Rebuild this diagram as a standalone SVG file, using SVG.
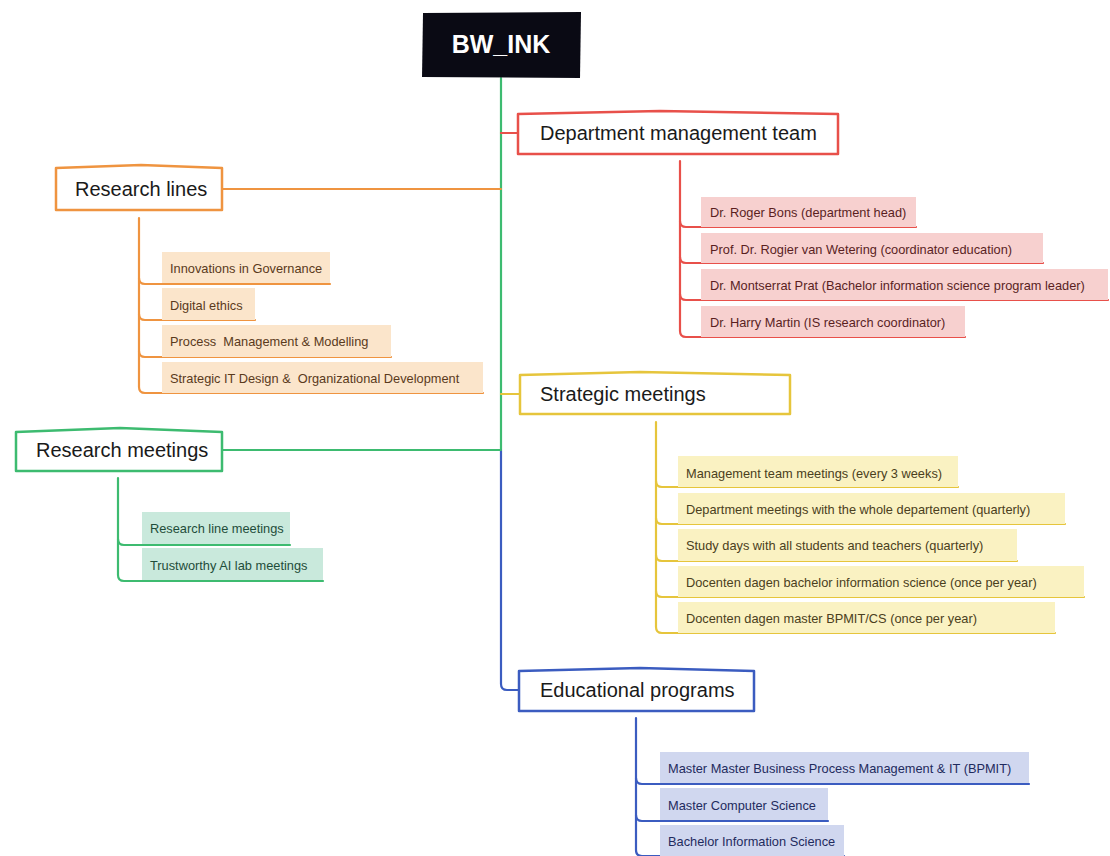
<svg xmlns="http://www.w3.org/2000/svg" width="1110" height="856" viewBox="0 0 1110 856">
<style>
.main{fill:#fff;stroke-width:2.5;stroke-linejoin:round}
.mt{font-family:"Liberation Sans",Arial,sans-serif;font-size:20px;fill:#1a1a1a}
.ct{font-family:"Liberation Sans",Arial,sans-serif;font-size:12.8px}
.ln{fill:none;stroke-width:2.2;stroke-linecap:round;stroke-linejoin:round}
.o{stroke:#ef9440}.r{stroke:#e8504a}.y{stroke:#e6c53c}.g{stroke:#3dbb70}.b{stroke:#3b5cc0}
.ob{fill:#fbe5cb}.rb{fill:#f7d0cf}.yb{fill:#faf2c2}.gb{fill:#c9e9dc}.bb{fill:#d0d7ef}
.ot{fill:#5a3a1c}.rt{fill:#5a1f1f}.yt{fill:#4a4020}.gt{fill:#1f4d3a}.bt{fill:#1f2b5e}
</style>
<rect width="1110" height="856" fill="#fff"/>
<g id="connectors">
  <path class="ln g" d="M501,78 V450"/>
  <path class="ln b" d="M501,450 V684 Q501,690 507,690 H519"/>
  <path class="ln r" d="M501,133 H518"/>
  <path class="ln y" d="M501,394 H520"/>
  <path class="ln o" d="M222,189 H501"/>
  <path class="ln g" d="M222,450 H501"/>
  <path class="ln o" d="M139,218 V278 Q139,284 145,284 H330"/>
  <path class="ln o" d="M139,278 V314 Q139,320 145,320 H255"/>
  <path class="ln o" d="M139,314 V351 Q139,357 145,357 H391"/>
  <path class="ln o" d="M139,351 V387 Q139,393 145,393 H483"/>
  <path class="ln r" d="M680,161 V221 Q680,227 686,227 H916"/>
  <path class="ln r" d="M680,221 V257 Q680,263 686,263 H1043"/>
  <path class="ln r" d="M680,257 V294 Q680,300 686,300 H1108"/>
  <path class="ln r" d="M680,294 V331 Q680,337 686,337 H965"/>
  <path class="ln y" d="M656,422 V481 Q656,487 662,487 H958"/>
  <path class="ln y" d="M656,481 V518 Q656,524 662,524 H1065"/>
  <path class="ln y" d="M656,518 V555 Q656,561 662,561 H1017"/>
  <path class="ln y" d="M656,555 V591 Q656,597 662,597 H1084"/>
  <path class="ln y" d="M656,591 V627 Q656,633 662,633 H1055"/>
  <path class="ln g" d="M118,478 V539 Q118,545 124,545 H290"/>
  <path class="ln g" d="M118,539 V575 Q118,581 124,581 H323"/>
  <path class="ln b" d="M636,718 V778 Q636,784 642,784 H1029"/>
  <path class="ln b" d="M636,778 V815 Q636,821 642,821 H828"/>
  <path class="ln b" d="M636,815 V850 Q636,856 642,856 H844"/>
</g>
<g id="root">
  <path d="M423,13 L581,12 L580,78 L422,77 Z" fill="#0a0a14"/>
  <text x="501" y="53" text-anchor="middle" font-family="Liberation Sans,Arial,sans-serif" font-size="25" font-weight="bold" fill="#fff">BW_INK</text>
</g>
<g id="research-lines">
  <path class="main o" d="M56,168 L141,165 L222,168 L222,210 L56,210 Z"/>
  <text class="mt" x="75" y="196">Research lines</text>
</g>
<g id="rl-1"><rect class="ob" x="162" y="252" width="168" height="31"/><text class="ct ot" x="170" y="273">Innovations in Governance</text></g>
<g id="rl-2"><rect class="ob" x="162" y="288" width="93" height="32"/><text class="ct ot" x="170" y="310">Digital ethics</text></g>
<g id="rl-3"><rect class="ob" x="162" y="325" width="229" height="32"/><text class="ct ot" x="170" y="346" xml:space="preserve">Process  Management &amp; Modelling</text></g>
<g id="rl-4"><rect class="ob" x="162" y="362" width="321" height="31"/><text class="ct ot" x="170" y="383" xml:space="preserve">Strategic IT Design &amp;  Organizational Development</text></g>
<g id="department">
  <path class="main r" d="M518,114 L660,111 L838,114 L838,154 L518,154 Z"/>
  <text class="mt" x="540" y="140">Department management team</text>
</g>
<g id="dm-1"><rect class="rb" x="701" y="197" width="215" height="30"/><text class="ct rt" x="710" y="217">Dr. Roger Bons (department head)</text></g>
<g id="dm-2"><rect class="rb" x="701" y="233" width="342" height="30"/><text class="ct rt" x="710" y="254">Prof. Dr. Rogier van Wetering (coordinator education)</text></g>
<g id="dm-3"><rect class="rb" x="701" y="269" width="407" height="31"/><text class="ct rt" x="710" y="290">Dr. Montserrat Prat (Bachelor information science program leader)</text></g>
<g id="dm-4"><rect class="rb" x="701" y="306" width="264" height="31"/><text class="ct rt" x="710" y="327">Dr. Harry Martin (IS research coordinator)</text></g>
<g id="strategic">
  <path class="main y" d="M520,375 L640,372 L790,375 L790,414 L520,414 Z"/>
  <text class="mt" x="540" y="401">Strategic meetings</text>
</g>
<g id="sm-1"><rect class="yb" x="678" y="456" width="280" height="31"/><text class="ct yt" x="686" y="478">Management team meetings (every 3 weeks)</text></g>
<g id="sm-2"><rect class="yb" x="678" y="493" width="387" height="31"/><text class="ct yt" x="686" y="514">Department meetings with the whole departement (quarterly)</text></g>
<g id="sm-3"><rect class="yb" x="678" y="529" width="339" height="32"/><text class="ct yt" x="686" y="550">Study days with all students and teachers (quarterly)</text></g>
<g id="sm-4"><rect class="yb" x="678" y="566" width="406" height="31"/><text class="ct yt" x="686" y="587">Docenten dagen bachelor information science (once per year)</text></g>
<g id="sm-5"><rect class="yb" x="678" y="602" width="377" height="31"/><text class="ct yt" x="686" y="623">Docenten dagen master BPMIT/CS (once per year)</text></g>
<g id="research-meetings">
  <path class="main g" d="M16,432 L120,428 L222,432 L222,471 L16,471 Z"/>
  <text class="mt" x="36" y="457">Research meetings</text>
</g>
<g id="rm-1"><rect class="gb" x="142" y="512" width="148" height="32"/><text class="ct gt" x="150" y="533">Research line meetings</text></g>
<g id="rm-2"><rect class="gb" x="142" y="548" width="181" height="32"/><text class="ct gt" x="150" y="570">Trustworthy AI lab meetings</text></g>
<g id="educational">
  <path class="main b" d="M519,671 L640,668 L754,671 L754,711 L519,711 Z"/>
  <text class="mt" x="540" y="697">Educational programs</text>
</g>
<g id="ep-1"><rect class="bb" x="660" y="752" width="369" height="31"/><text class="ct bt" x="668" y="773">Master Master Business Process Management &amp; IT (BPMIT)</text></g>
<g id="ep-2"><rect class="bb" x="660" y="788" width="168" height="32"/><text class="ct bt" x="668" y="810">Master Computer Science</text></g>
<g id="ep-3"><rect class="bb" x="660" y="825" width="184" height="31"/><text class="ct bt" x="668" y="846">Bachelor Information Science</text></g>
</svg>
